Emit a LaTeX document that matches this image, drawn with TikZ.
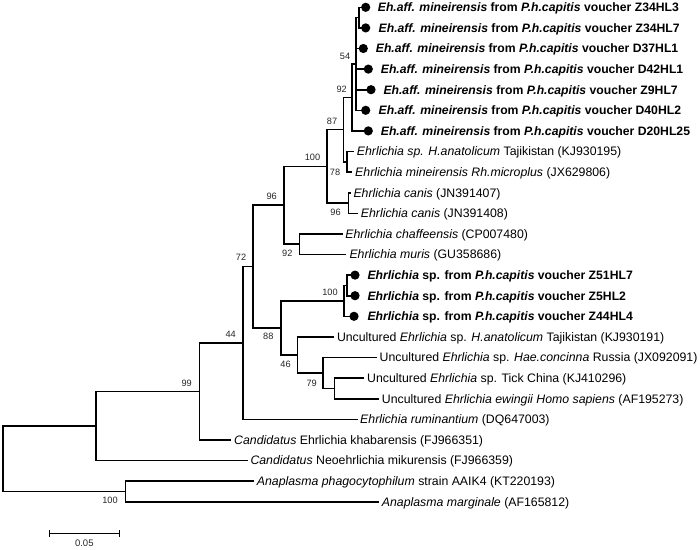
\documentclass[tikz,border=0pt]{standalone}
\usepackage{fontspec}
\setmainfont{Liberation Sans}
\begin{document}
\begin{tikzpicture}[x=1pt,y=-1pt,
  br/.style={line width=1.6pt, line join=miter, line cap=rect},
  leaf/.style={anchor=west, inner sep=0pt, text height=8.7pt, text depth=0pt, font=\fontsize{12.3}{14}\selectfont},
  bleaf/.style={leaf, font=\fontsize{12.2}{14}\selectfont\bfseries},
  boot/.style={inner sep=0pt, font=\fontsize{9.2}{11}\selectfont, text=black!85},
  mark dot/.style={fill=black}]
\useasboundingbox (0,0) rectangle (700,549);

% internal nodes
\coordinate (root) at (2.7,458.7);
\coordinate (nX) at (95.7,425.95);
\coordinate (nAna) at (125.3,491.4);
\coordinate (n99) at (199.3,391.4);
\coordinate (n44) at (242.7,342.9);
\coordinate (n72) at (253,266.6);
\coordinate (n96) at (284,205.25);
\coordinate (n100a) at (326.7,166.3);
\coordinate (n87) at (343.3,129.6);
\coordinate (n92a) at (351.7,97.43);
\coordinate (n54) at (355.7,63.95);
\coordinate (nB) at (359,17.6);
\coordinate (n78) at (347,161.8);
\coordinate (ncanis) at (348.3,203);
\coordinate (n92b) at (299.3,244.2);
\coordinate (n88) at (281,327.9);
\coordinate (nZ) at (344,300.85);
\coordinate (nZs) at (346.7,285.4);
\coordinate (n46) at (297.5,354.9);
\coordinate (n79) at (323,372.95);
\coordinate (ntick) at (334.5,388.4);

% leaves (branch ends)
\coordinate (l1) at (360.7,7.3);
\coordinate (l2) at (360.7,27.9);
\coordinate (l3) at (358.3,48.5);
\coordinate (l4) at (363.3,69.1);
\coordinate (l5) at (366,89.7);
\coordinate (l6) at (360.7,110.3);
\coordinate (l7) at (363.3,130.9);
\coordinate (l8) at (353.2,151.5);
\coordinate (l9) at (351.5,172.1);
\coordinate (l10) at (349.8,192.7);
\coordinate (l11) at (357.2,213.3);
\coordinate (l12) at (341.7,233.9);
\coordinate (l13) at (345.5,254.5);
\coordinate (l14) at (350,275.1);
\coordinate (l15) at (350,295.7);
\coordinate (l16) at (349,316.3);
\coordinate (l17) at (333.3,336.9);
\coordinate (l18) at (376.2,357.5);
\coordinate (l19) at (363.5,378.1);
\coordinate (l20) at (378.3,398.7);
\coordinate (l21) at (356.7,419.3);
\coordinate (l22) at (230.5,439.9);
\coordinate (l23) at (246.7,460.5);
\coordinate (l24) at (253.3,481.1);
\coordinate (l25) at (378.3,501.7);

% branches
\foreach \p/\c in {root/nX, root/nAna, nX/n99, nX/l23, nAna/l24, nAna/l25,
  n99/n44, n99/l22, n44/n72, n44/l21, n72/n96, n72/n88,
  n96/n100a, n96/n92b, n100a/n87, n100a/ncanis, n87/n92a, n87/n78,
  n92a/n54, n92a/l7, n54/nB, n54/l3, n54/l4, n54/l5, n54/l6, nB/l1, nB/l2,
  n78/l8, n78/l9, ncanis/l10, ncanis/l11, n92b/l12, n92b/l13,
  n88/nZ, n88/n46, nZ/nZs, nZ/l16, nZs/l14, nZs/l15,
  n46/l17, n46/n79, n79/l18, n79/ntick, ntick/l19, ntick/l20}
  \draw[br] (\p) |- (\c);

% dots
\foreach \l in {l1,l2,l3,l4,l5,l6,l7,l14,l15,l16}
  \fill[mark dot] (\l) ++(5,0) circle[radius=4.6pt];

% leaf labels
\node[bleaf] (t1) at (377.7,7.3) {\textit{Eh.aff. mineirensis} from \textit{P.h.capitis} voucher Z34HL3};
\node[bleaf] (t2) at (378.5,27.9) {\textit{Eh.aff. mineirensis} from \textit{P.h.capitis} voucher Z34HL7};
\node[bleaf] (t3) at (375.7,48.5) {\textit{Eh.aff. mineirensis} from \textit{P.h.capitis} voucher D37HL1};
\node[bleaf] (t4) at (380.7,69.1) {\textit{Eh.aff. mineirensis} from \textit{P.h.capitis} voucher D42HL1};
\node[bleaf] (t5) at (383.3,89.7) {\textit{Eh.aff. mineirensis} from \textit{P.h.capitis} voucher Z9HL7};
\node[bleaf] (t6) at (378.5,110.3) {\textit{Eh.aff. mineirensis} from \textit{P.h.capitis} voucher D40HL2};
\node[bleaf] (t7) at (380.7,130.9) {\textit{Eh.aff. mineirensis} from \textit{P.h.capitis} voucher D20HL25};
\node[leaf] (t8) at (356.7,151.5) {\textit{Ehrlichia sp. H.anatolicum} Tajikistan (KJ930195)};
\node[leaf] (t9) at (355,172.1) {\textit{Ehrlichia mineirensis Rh.microplus} (JX629806)};
\node[leaf] (t10) at (353.3,192.7) {\textit{Ehrlichia canis} (JN391407)};
\node[leaf] (t11) at (360.7,213.3) {\textit{Ehrlichia canis} (JN391408)};
\node[leaf] (t12) at (345.2,233.9) {\textit{Ehrlichia chaffeensis} (CP007480)};
\node[leaf] (t13) at (349.3,254.5) {\textit{Ehrlichia muris} (GU358686)};
\node[bleaf] (t14) at (367.3,275.1) {\textit{Ehrlichia} sp. from \textit{P.h.capitis} voucher Z51HL7};
\node[bleaf] (t15) at (367.3,295.7) {\textit{Ehrlichia} sp. from \textit{P.h.capitis} voucher Z5HL2};
\node[bleaf] (t16) at (367.3,316.3) {\textit{Ehrlichia} sp. from \textit{P.h.capitis} voucher Z44HL4};
\node[leaf] (t17) at (336.8,336.9) {Uncultured \textit{Ehrlichia} sp. \textit{H.anatolicum} Tajikistan (KJ930191)};
\node[leaf] (t18) at (379.5,357.5) {Uncultured \textit{Ehrlichia} sp. \textit{Hae.concinna} Russia (JX092091)};
\node[leaf] (t19) at (367,378.1) {Uncultured \textit{Ehrlichia} sp. Tick China (KJ410296)};
\node[leaf] (t20) at (381.7,398.7) {Uncultured \textit{Ehrlichia ewingii Homo sapiens} (AF195273)};
\node[leaf] (t21) at (360,419.3) {\textit{Ehrlichia ruminantium} (DQ647003)};
\node[leaf] (t22) at (234,439.9) {\textit{Candidatus} Ehrlichia khabarensis (FJ966351)};
\node[leaf] (t23) at (250.3,460.5) {\textit{Candidatus} Neoehrlichia mikurensis (FJ966359)};
\node[leaf] (t24) at (256.7,481.1) {\textit{Anaplasma phagocytophilum} strain AAIK4 (KT220193)};
\node[leaf] (t25) at (381.7,501.7) {\textit{Anaplasma marginale} (AF165812)};

% bootstrap values
\node[boot] (b54) at (345,56.7) {54};
\node[boot] (b92a) at (341.7,89.3) {92};
\node[boot] (b87) at (332,121) {87};
\node[boot] (b100a) at (312.5,157.5) {100};
\node[boot] (b78) at (335,172) {78};
\node[boot] (b96c) at (335.5,212) {96};
\node[boot] (b96) at (271.7,196.7) {96};
\node[boot] (b92b) at (287.3,253.3) {92};
\node[boot] (b72) at (241,257.7) {72};
\node[boot] (b100z) at (330,292.3) {100};
\node[boot] (b88) at (268.3,336.7) {88};
\node[boot] (b46) at (285.5,364) {46};
\node[boot] (b79) at (311.7,383) {79};
\node[boot] (b44) at (230.7,334.3) {44};
\node[boot] (b99) at (186.7,383.3) {99};
\node[boot] (b100n) at (110,500.7) {100};

% scale bar
\coordinate (s1) at (49.3,533.3);
\coordinate (s2) at (119.3,533.3);
\draw[line width=1.4pt] (s1) -- (s2);
\draw[line width=1.4pt] ([yshift=3.3pt]s1) -- ([yshift=-3.3pt]s1);
\draw[line width=1.4pt] ([yshift=3.3pt]s2) -- ([yshift=-3.3pt]s2);
\node[boot, font=\fontsize{9.5}{11}\selectfont] (sl) at (84.3,543.3) {0.05};
\end{tikzpicture}
\end{document}
